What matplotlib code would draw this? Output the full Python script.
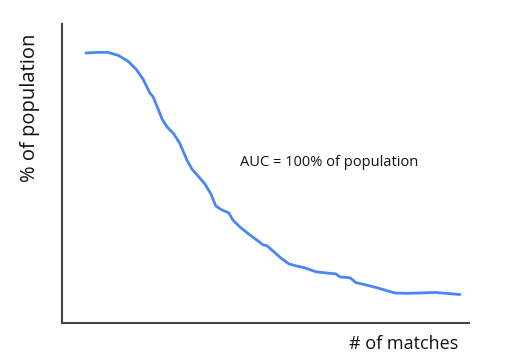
import matplotlib
matplotlib.use("Agg")
import matplotlib.pyplot as plt

# curve (x: matches, y: % of population, arbitrary 0-100 scale)
matches = [5.9, 8.4, 11.3, 13.8, 16.2, 18.2, 19.9, 21.6, 22.4, 23.3, 24.6, 25.8,
           27.5, 29.0, 30.7, 31.9, 33.4, 35.1, 36.6, 37.8, 39.3, 41.0, 42.0, 43.7,
           46.2, 48.2, 49.4, 50.4, 51.8, 53.8, 55.8, 57.5, 59.7, 62.4, 65.1, 67.3,
           68.3, 70.8, 72.2, 74.7, 77.6, 80.1, 81.8, 84.3, 88.0, 91.6, 94.3, 97.8]
population = [90.3, 90.5, 90.5, 89.5, 87.6, 84.9, 81.6, 76.9, 75.6, 72.6, 68.2, 65.6,
              63.2, 59.9, 54.5, 51.5, 49.2, 46.5, 43.1, 39.1, 37.8, 36.8, 34.4, 32.1,
              29.4, 27.4, 26.1, 25.8, 24.1, 21.7, 19.7, 19.1, 18.4, 17.1, 16.7, 16.4,
              15.4, 15.1, 13.5, 12.7, 11.7, 10.7, 10.0, 9.9, 10.0, 10.2, 9.9, 9.5]

plt.rcParams["font.family"] = ["Open Sans", "DejaVu Sans"]

fig = plt.figure(figsize=(5.21, 3.58), dpi=100)
ax = fig.add_axes([0.119, 0.098, 0.781, 0.835])

ax.plot(matches, population, color="#4a86f7", linewidth=2, solid_capstyle="round")
ax.set_xlim(0, 100)
ax.set_ylim(0, 100)

for side in ("top", "right"):
    ax.spines[side].set_visible(False)
for side in ("left", "bottom"):
    ax.spines[side].set_color("#444444")
    ax.spines[side].set_linewidth(1.5)
ax.set_xticks([])
ax.set_yticks([])

ax.text(0.437, 0.538, "AUC = 100% of population", transform=ax.transAxes,
        fontsize=10.5, va="center", ha="left", color="#111111")
fig.text(0.058, 0.70, "% of population", rotation=90, fontsize=14.5,
         va="center", ha="center", color="#111111")
fig.text(0.774, 0.039, "# of matches", fontsize=13, va="center", ha="center",
         color="#111111")

fig.savefig("out.png", dpi=100)
